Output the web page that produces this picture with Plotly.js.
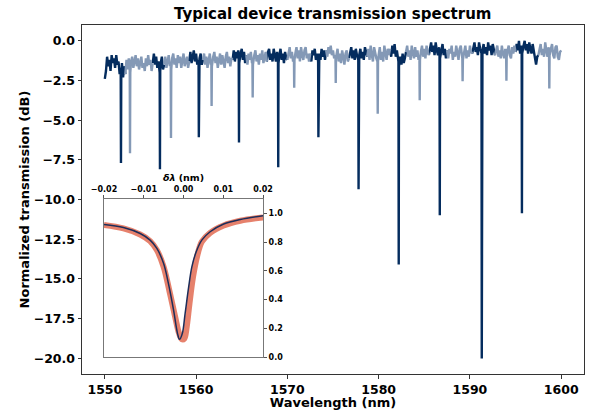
<!DOCTYPE html>
<html>
<head>
<meta charset="utf-8">
<script src="https://cdn.plot.ly/plotly-3.0.1.min.js"></script>
<style>html,body{margin:0;padding:0;background:#fff;}#chart{width:590px;height:410px;}</style>
</head>
<body>
<div id="chart"></div>
<script>
// ---- Main spectrum: dark (resonant family) segments, null-separated ----
const darkWl = [
  1550.000,1550.125,1550.250,1550.375,1550.500,1550.625,1550.750,1550.875,1551.000,1551.125,1551.250,1551.375,1551.500,1551.625,1551.740,1551.770,1551.800,1551.875,1552.000,1552.125,1552.250, null,
  1555.250,1555.375,1555.500,1555.625,1555.750,1555.875,1556.010,1556.040,1556.070,1556.125,1556.250,1556.375,1556.500, null,
  1559.250,1559.375,1559.500,1559.625,1559.750,1559.875,1560.000,1560.125,1560.270,1560.300,1560.330,1560.375,1560.500,1560.625,1560.750, null,
  1564.000,1564.125,1564.250,1564.375,1564.500,1564.625,1564.670,1564.700,1564.730,1564.875,1565.000,1565.125,1565.250,1565.375,1565.500, null,
  1567.750,1567.875,1568.000,1568.125,1568.250,1568.375,1568.500,1568.625,1568.750,1568.875,1568.970,1569.000,1569.030,1569.125,1569.250,1569.375,1569.500,1569.625,1569.750,1569.875,1570.000, null,
  1572.500,1572.625,1572.750,1572.875,1573.000,1573.125,1573.250,1573.370,1573.400,1573.430,1573.500,1573.625,1573.750,1573.875,1574.000,1574.125,1574.250, null,
  1576.750,1576.875,1577.000,1577.125,1577.250,1577.375,1577.500,1577.625,1577.770,1577.800,1577.830,1577.875,1578.000,1578.125,1578.250,1578.375,1578.500,1578.625,1578.750, null,
  1581.250,1581.375,1581.500,1581.625,1581.750,1581.875,1582.000,1582.125,1582.170,1582.200,1582.230,1582.375,1582.500,1582.625,1582.750,1582.875,1583.000, null,
  1585.500,1585.625,1585.750,1585.875,1586.000,1586.125,1586.250,1586.375,1586.500,1586.625,1586.670,1586.700,1586.730,1586.875,1587.000,1587.125,1587.250,1587.375,1587.500, null,
  1590.250,1590.375,1590.500,1590.625,1590.750,1590.875,1591.000,1591.125,1591.270,1591.300,1591.330,1591.375,1591.500,1591.625,1591.750,1591.875,1592.000,1592.125,1592.250,1592.375,1592.500,1592.625,1592.750, null,
  1595.000,1595.125,1595.250,1595.375,1595.500,1595.625,1595.670,1595.700,1595.730,1595.875,1596.000,1596.125,1596.250,1596.375,1596.500,1596.625,1596.750,1596.875,1597.000,1597.125,1597.250,1597.375,1597.500
];
const darkDb = [
  -2.4,-1.9,-1.0,-1.6,-1.2,-1.9,-0.9,-1.4,-1.1,-1.7,-0.9,-1.5,-1.3,-2.1,-1.7,-7.7,-2.2,-1.4,-2.3,-1.6,-2.1, null,
  -1.4,-0.8,-1.5,-1.0,-1.7,-1.3,-2.0,-8.1,-1.9,-1.4,-1.0,-1.8,-1.5, null,
  -1.3,-0.7,-1.4,-0.9,-0.6,-1.3,-0.8,-1.5,-1.2,-6.07,-1.7,-1.1,-0.8,-1.5,-1.2, null,
  -1.2,-0.6,-1.3,-0.7,-1.1,-0.6,-1.2,-6.4,-1.4,-0.8,-0.5,-1.2,-0.7,-1.4,-0.9, null,
  -1.3,-0.7,-0.5,-1.2,-0.8,-1.3,-0.5,-0.9,-1.3,-0.7,-1.3,-7.96,-1.4,-0.9,-0.5,-1.2,-0.8,-1.4,-0.7,-1.1,-1.2, null,
  -0.8,-1.3,-0.6,-0.9,-0.5,-1.2,-0.8,-1.3,-6.07,-1.3,-0.8,-1.2,-0.5,-1.0,-0.6,-1.2,-0.6, null,
  -1.1,-0.6,-0.4,-1.1,-0.6,-1.2,-0.5,-0.9,-1.2,-9.35,-1.2,-0.9,-0.5,-1.1,-0.7,-1.2,-0.4,-0.8,-1.0, null,
  -0.5,-1.0,-0.3,-0.8,-0.2,-1.0,-0.6,-1.1,-1.3,-14.1,-1.6,-1.0,-1.5,-0.8,-1.4,-1.1,-0.7, null,
  -0.9,-0.4,-0.1,-0.7,-0.3,-0.9,-0.1,-0.6,-0.9,-0.4,-1.0,-11.0,-1.1,-0.6,-0.2,-0.9,-0.5,-1.1,-0.6, null,
  -0.8,-0.3,-0.1,-0.7,-0.4,-0.9,-0.1,-0.5,-0.8,-20.03,-0.9,-0.6,-0.2,-0.8,-0.4,-0.9,-0.1,-0.6,-0.3,-0.9,-0.2,-0.7,-0.9, null,
  -0.7,-0.2,-0.6,0.0,-0.8,-0.3,-0.6,-10.86,-0.8,-0.3,0.0,-0.6,-0.2,-0.8,-0.1,-0.5,-0.8,-0.2,-0.6,-1.1,-1.5,-1.0,-0.9
];
// ---- Main spectrum: light (other family) segments ----
const lightWl = [
  1552.250,1552.375,1552.500,1552.625,1552.730,1552.760,1552.790,1552.875,1553.000,1553.125,1553.250,1553.375,1553.500,1553.625,1553.750,1553.875,1554.000,1554.125,1554.250,1554.375,1554.500,1554.625,1554.750,1554.875,1555.000,1555.125,1555.250, null,
  1556.500,1556.625,1556.750,1556.875,1557.000,1557.125,1557.220,1557.250,1557.280,1557.375,1557.500,1557.625,1557.750,1557.875,1558.000,1558.125,1558.250,1558.375,1558.500,1558.625,1558.750,1558.875,1559.000,1559.125,1559.250, null,
  1560.750,1560.875,1561.000,1561.125,1561.250,1561.375,1561.500,1561.625,1561.670,1561.700,1561.730,1561.875,1562.000,1562.125,1562.250,1562.375,1562.500,1562.625,1562.750,1562.875,1563.000,1563.125,1563.250,1563.375,1563.500,1563.625,1563.750,1563.875,1564.000, null,
  1565.500,1565.625,1565.750,1565.875,1566.000,1566.125,1566.170,1566.200,1566.230,1566.375,1566.500,1566.625,1566.750,1566.875,1567.000,1567.125,1567.250,1567.375,1567.500,1567.625,1567.750, null,
  1570.000,1570.125,1570.250,1570.375,1570.500,1570.625,1570.720,1570.750,1570.780,1570.875,1571.000,1571.125,1571.250,1571.375,1571.500,1571.625,1571.750,1571.875,1572.000,1572.125,1572.250,1572.375,1572.500, null,
  1574.250,1574.375,1574.500,1574.625,1574.750,1574.875,1575.000,1575.125,1575.270,1575.300,1575.330,1575.375,1575.500,1575.625,1575.750,1575.875,1576.000,1576.125,1576.250,1576.375,1576.500,1576.625,1576.750, null,
  1578.750,1578.875,1579.000,1579.125,1579.250,1579.375,1579.500,1579.625,1579.750,1579.870,1579.900,1579.930,1580.000,1580.125,1580.250,1580.375,1580.500,1580.625,1580.750,1580.875,1581.000,1581.125,1581.250, null,
  1583.000,1583.125,1583.250,1583.375,1583.500,1583.625,1583.750,1583.875,1584.000,1584.125,1584.250,1584.375,1584.470,1584.500,1584.530,1584.625,1584.750,1584.875,1585.000,1585.125,1585.250,1585.375,1585.500, null,
  1587.500,1587.625,1587.750,1587.875,1588.000,1588.125,1588.250,1588.375,1588.500,1588.625,1588.750,1588.875,1589.000,1589.125,1589.170,1589.200,1589.230,1589.375,1589.500,1589.625,1589.750,1589.875,1590.000,1590.125,1590.250, null,
  1592.750,1592.875,1593.000,1593.125,1593.250,1593.375,1593.500,1593.625,1593.750,1593.875,1593.970,1594.000,1594.030,1594.125,1594.250,1594.375,1594.500,1594.625,1594.750,1594.875,1595.000, null,
  1597.500,1597.625,1597.750,1597.875,1598.000,1598.125,1598.250,1598.375,1598.500,1598.625,1598.670,1598.700,1598.730,1598.875,1599.000,1599.125,1599.250,1599.375,1599.500,1599.625,1599.750,1599.875,1600.000
];
const lightDb = [
  -2.1,-1.2,-1.8,-1.1,-1.9,-7.08,-2.0,-1.3,-1.0,-1.7,-1.2,-0.9,-1.6,-1.1,-1.8,-1.3,-1.0,-1.7,-1.4,-1.9,-1.1,-1.6,-0.9,-1.5,-1.2,-1.9,-1.4, null,
  -1.5,-1.0,-1.7,-1.2,-0.9,-1.6,-1.4,-6.13,-1.8,-1.1,-0.8,-1.5,-1.1,-1.7,-0.9,-1.4,-1.0,-1.7,-1.2,-0.8,-1.6,-1.3,-1.0,-1.7,-1.3, null,
  -1.2,-0.8,-1.5,-1.0,-1.7,-1.1,-0.8,-1.5,-1.3,-4.1,-1.6,-1.0,-0.7,-1.4,-1.0,-1.7,-1.2,-0.8,-1.5,-0.9,-1.3,-1.7,-1.0,-0.7,-1.4,-1.0,-1.6,-1.1,-1.2, null,
  -0.9,-1.5,-0.8,-1.2,-0.7,-1.4,-1.2,-3.57,-1.5,-0.9,-0.6,-1.3,-0.9,-1.5,-0.8,-1.2,-0.6,-1.4,-1.0,-0.7,-1.3, null,
  -1.2,-0.7,-0.4,-1.1,-0.7,-1.3,-1.0,-2.96,-1.2,-0.8,-0.4,-1.1,-0.6,-1.3,-0.4,-0.9,-1.2,-0.6,-0.4,-1.1,-0.8,-1.3,-0.8, null,
  -0.6,-1.0,-0.4,-0.8,-0.3,-0.9,-0.6,-1.1,-0.9,-2.65,-1.1,-0.9,-0.5,-1.3,-0.8,-1.4,-0.6,-1.0,-1.5,-0.8,-0.6,-1.3,-1.1, null,
  -1.0,-0.5,-1.2,-0.3,-0.9,-1.3,-0.4,-0.8,-1.1,-1.3,-4.6,-1.3,-0.9,-0.4,-1.2,-0.7,-1.3,-0.3,-0.8,-1.2,-0.5,-0.9,-0.5, null,
  -0.7,-0.3,-1.0,-0.6,-1.2,-0.3,-0.8,-1.1,-0.4,-1.0,-0.6,-1.2,-1.0,-3.74,-1.2,-0.7,-0.3,-1.0,-0.5,-1.1,-0.3,-0.7,-0.9, null,
  -0.6,-1.1,-0.5,-0.8,-0.3,-1.2,-0.7,-1.0,-0.3,-0.9,-1.2,-0.5,-0.3,-0.9,-1.1,-2.54,-1.2,-0.7,-0.3,-1.1,-0.6,-1.0,-0.3,-0.7,-0.8, null,
  -0.9,-0.5,-0.3,-1.0,-0.6,-1.1,-0.3,-0.8,-1.1,-0.5,-0.9,-2.52,-1.0,-0.6,-0.3,-0.9,-1.1,-0.4,-0.8,-0.3,-0.7, null,
  -0.9,-0.4,-0.2,-0.9,-0.5,-1.0,-0.1,-0.6,-1.0,-0.4,-0.8,-3.0,-0.9,-0.5,-0.2,-0.9,-1.1,-0.4,-0.3,-1.0,-1.2,-0.7,-0.6
];
// ---- Inset: single resonance, measured data and fit ----
const insetDataDl = [-0.0200,-0.0151,-0.0109,-0.0084,-0.0067,-0.0050,-0.0034,-0.0021,-0.0011,-0.0004,0.0002,0.0008,0.0015,0.0024,0.0034,0.0046,0.0067,0.0101,0.0143,0.0200];
const insetDataT  = [0.919,0.895,0.853,0.807,0.744,0.628,0.442,0.279,0.163,0.123,0.128,0.209,0.372,0.558,0.698,0.802,0.865,0.916,0.949,0.972];
const insetFitDl  = [-0.0200,-0.0151,-0.0109,-0.0084,-0.0067,-0.0050,-0.0038,-0.0025,-0.0015,-0.0010,-0.0003,0.0004,0.0013,0.0021,0.0032,0.0046,0.0067,0.0101,0.0143,0.0200];
const insetFitT   = [0.923,0.902,0.860,0.814,0.756,0.651,0.512,0.326,0.163,0.123,0.163,0.302,0.488,0.628,0.733,0.814,0.872,0.926,0.958,0.984];

const xTicks = [1550,1560,1570,1580,1590,1600];
const yTicks = [0,-2.5,-5,-7.5,-10,-12.5,-15,-17.5,-20];
const insetXTicks = [-0.02,-0.01,0,0.01,0.02];
const insetYTicks = [0,0.2,0.4,0.6,0.8,1.0];

const DARK = '#042c5e', LIGHT = '#8499b6';
const FONT = 'DejaVu Sans, sans-serif';

const traces = [
  {x: darkWl, y: darkDb, type:'scatter', mode:'lines', line:{color:DARK, width:2.4}, hoverinfo:'skip', showlegend:false},
  {x: lightWl, y: lightDb, type:'scatter', mode:'lines', line:{color:LIGHT, width:2.4}, hoverinfo:'skip', showlegend:false},
  {x: insetDataDl, y: insetDataT, xaxis:'x2', yaxis:'y2', type:'scatter', mode:'lines', line:{color:'#e3735c', width:6, shape:'spline'}, opacity:0.9, showlegend:false},
  {x: insetFitDl, y: insetFitT, xaxis:'x2', yaxis:'y2', type:'scatter', mode:'lines', line:{color:'#1c2d5a', width:1.5, shape:'spline'}, showlegend:false}
];

const layout = {
  width:590, height:410,
  margin:{l:82, r:6, t:25, b:36},
  paper_bgcolor:'#fff', plot_bgcolor:'#fff',
  font:{family:FONT, color:'#000'},
  title:{text:'<b>Typical device transmission spectrum</b>', font:{size:15, family:FONT}, x:0.5639, xanchor:'center', y:0.966, yanchor:'middle'},
  xaxis:{range:[1547.5,1602.5], tickvals:xTicks, ticks:'outside', ticklen:3.5, tickcolor:'#333', showgrid:false, zeroline:false,
         showline:true, mirror:true, linecolor:'#333', linewidth:1, tickfont:{size:12.5, family:FONT, weight:'bold'},
         title:{text:'<b>Wavelength (nm)</b>', font:{size:13, family:FONT}, standoff:6}, automargin:false},
  yaxis:{range:[-21.0,1.0], tickvals:yTicks, tickformat:'.1f', ticks:'outside', ticklen:3.5, tickcolor:'#333', showgrid:false, zeroline:false,
         showline:true, mirror:true, linecolor:'#333', linewidth:1, tickfont:{size:12.5, family:FONT, weight:'bold'},
         title:{text:'<b>Normalized transmission (dB)</b>', font:{size:13, family:FONT}, standoff:1}, automargin:false},
  xaxis2:{domain:[0.0438,0.3606], anchor:'y2', side:'top', range:[-0.02,0.02], tickvals:insetXTicks, tickformat:'.2f',
          ticks:'outside', ticklen:3, tickcolor:'#555', showgrid:false, zeroline:false, showline:true, mirror:true, linecolor:'#777', linewidth:1,
          tickfont:{size:8, family:FONT, weight:'bold'}, title:{text:'<b><i>δλ</i> (nm)</b>', font:{size:9.5, family:FONT}, standoff:1}, automargin:false},
  yaxis2:{domain:[0.0487,0.5014], anchor:'x2', side:'right', range:[0,1.1], tickvals:insetYTicks, tickformat:'.1f',
          ticks:'outside', ticklen:3, tickcolor:'#555', showgrid:false, zeroline:false, showline:true, mirror:true, linecolor:'#777', linewidth:1,
          tickfont:{size:8, family:FONT, weight:'bold'}, automargin:false}
};

Plotly.newPlot('chart', traces, layout, {staticPlot:true, displayModeBar:false});
</script>
</body>
</html>
